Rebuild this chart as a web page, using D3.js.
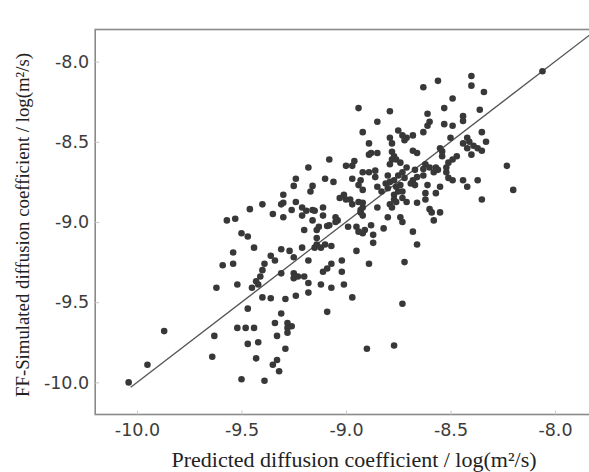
<!DOCTYPE html>
<html><head><meta charset="utf-8">
<script src="https://cdn.jsdelivr.net/npm/d3@7"></script>
<style>body{margin:0;background:#fff}</style>
</head><body>
<script>
// Data (predicted, simulated) in log(m^2/s)
const predicted = [
-8.06,-8.40,-8.40,-8.56,-8.63,-8.34,-8.49,-8.94,-8.79,-8.53,-8.36,-8.85,-8.61,-8.60,-8.61,-8.44,-8.44,-8.53,-8.49,
-8.92,-8.75,-8.73,-8.71,-8.68,-8.72,-8.63,-8.35,-8.79,-8.78,-8.89,-8.50,-8.42,-8.41,-8.44,-8.39,-8.33,-8.68,-8.66,
-8.55,-8.54,-8.54,-8.89,-8.88,-8.85,-8.78,-8.77,-8.78,-8.79,-8.76,-8.74,-8.42,-8.37,-8.35,-8.40,-9.08,-8.96,-9.00,
-8.97,-8.92,-8.89,-8.62,-8.60,-8.63,-8.49,-8.47,-8.51,-8.52,-8.57,-8.56,-8.58,-8.23,-8.86,-8.75,-8.73,-8.72,-8.71,
-8.67,-8.66,-8.63,-8.52,-8.51,-8.49,-9.18,-9.10,-9.06,-9.24,-9.25,-8.97,-8.93,-8.94,-8.92,-8.81,-8.79,-8.80,-8.83,
-8.68,-8.69,-8.67,-8.61,-8.62,-8.55,-8.57,-8.42,-8.44,-8.37,-8.20,-8.35,-9.16,-9.17,-9.01,-9.03,-9.00,-8.98,-8.97,
-8.94,-8.92,-8.92,-8.93,-8.85,-8.79,-8.76,-8.62,-8.66,-8.55,-8.59,-9.21,-9.16,-9.11,-8.93,-8.92,-8.80,-8.74,-8.75,
-8.73,-8.77,-8.73,-8.77,-8.76,-8.74,-8.77,-8.85,-8.80,-9.30,-9.30,-9.24,-9.40,-9.31,-9.35,-9.46,-9.26,-9.19,-9.15,
-9.11,-9.21,-9.30,-9.57,-9.53,-9.16,-9.13,-9.14,-9.09,-9.08,-9.05,-9.05,-9.04,-8.99,-8.95,-8.94,-8.92,-8.91,-8.88,
-8.87,-8.87,-8.82,-8.78,-8.73,-8.68,-8.66,-8.58,-8.60,-8.71,-9.20,-9.50,-9.47,-9.44,-9.31,-9.27,-9.25,-9.21,-9.14,
-9.14,-9.12,-9.15,-9.10,-9.07,-8.95,-9.54,-9.54,-9.59,-9.36,-9.34,-9.18,-9.07,-9.09,-9.02,-9.02,-9.11,-8.89,-8.72,
-9.39,-9.40,-9.31,-9.25,-9.23,-9.25,-9.20,-9.18,-9.18,-9.12,-9.07,-9.01,-9.41,-9.43,-9.42,-9.52,-9.62,-9.45,-9.40,
-9.36,-9.29,-9.24,-8.97,-9.09,-9.47,-9.31,-8.73,-9.87,-9.63,-9.52,-9.48,-9.44,-9.34,-9.28,-9.26,-9.28,-9.28,-9.33,
-9.47,-9.42,-9.29,-8.90,-8.77,-9.64,-9.43,-9.33,-9.35,-9.32,-9.50,-9.39,-9.95,-10.04,-8.86
];
const simulated = [
-8.06,-8.09,-8.15,-8.12,-8.16,-8.19,-8.23,-8.29,-8.31,-8.29,-8.30,-8.375,-8.325,-8.375,-8.40,-8.34,-8.37,-8.39,-8.40,
-8.44,-8.43,-8.46,-8.475,-8.46,-8.49,-8.44,-8.44,-8.475,-8.51,-8.51,-8.475,-8.475,-8.50,-8.51,-8.525,-8.50,-8.556,-8.57,
-8.54,-8.56,-8.59,-8.58,-8.57,-8.57,-8.5625,-8.59,-8.61,-8.64,-8.61,-8.63,-8.54,-8.54,-8.556,-8.58,-8.61,-8.62,-8.65,
-8.65,-8.69,-8.69,-8.64,-8.66,-8.67,-8.61,-8.59,-8.63,-8.66,-8.66,-8.675,-8.69,-8.65,-8.72,-8.71,-8.69,-8.725,-8.66,
-8.675,-8.72,-8.71,-8.69,-8.725,-8.74,-8.66,-8.73,-8.75,-8.73,-8.775,-8.73,-8.74,-8.77,-8.80,-8.76,-8.75,-8.79,-8.81,
-8.74,-8.76,-8.77,-8.77,-8.82,-8.78,-8.82,-8.78,-8.74,-8.74,-8.80,-8.86,-8.775,-8.81,-8.83,-8.85,-8.86,-8.86,-8.89,
-8.875,-8.88,-8.91,-8.925,-8.91,-8.89,-8.875,-8.86,-8.88,-8.94,-8.94,-8.91,-8.925,-8.91,-8.94,-8.96,-8.97,-8.97,-8.81,
-8.81,-8.83,-8.85,-8.86,-8.78,-8.77,-8.74,-8.78,-8.71,-8.83,-8.88,-8.875,-8.89,-8.89,-8.95,-8.92,-8.925,-8.93,-8.93,
-8.96,-8.96,-8.97,-8.99,-8.98,-8.99,-9.03,-9.05,-9.025,-9.02,-9.00,-8.97,-8.99,-9.03,-9.03,-9.06,-9.07,-9.05,-9.02,
-9.08,-9.13,-9.04,-8.91,-9.00,-9.06,-9.14,-8.99,-8.92,-8.875,-9.05,-9.07,-9.09,-9.16,-9.17,-9.18,-9.22,-9.16,-9.10,
-9.14,-9.16,-9.16,-9.14,-9.15,-9.18,-9.19,-9.26,-9.27,-9.21,-9.24,-9.24,-9.26,-9.29,-9.24,-9.31,-9.31,-9.26,-9.25,
-9.26,-9.30,-9.32,-9.32,-9.34,-9.35,-9.34,-9.38,-9.44,-9.39,-9.41,-9.39,-9.34,-9.37,-9.39,-9.39,-9.41,-9.41,-9.47,
-9.475,-9.48,-9.46,-9.47,-9.56,-9.54,-9.57,-9.51,-9.68,-9.71,-9.66,-9.66,-9.66,-9.63,-9.63,-9.65,-9.66,-9.69,-9.71,
-9.76,-9.75,-9.79,-9.79,-9.77,-9.84,-9.85,-9.86,-9.89,-9.93,-9.98,-9.99,-9.89,-10.00,-8.68
];
const xTicks = [-10.0, -9.5, -9.0, -8.5, -8.0];
const yTicks = [-10.0, -9.5, -9.0, -8.5, -8.0];
const lineX = [-10.03, -7.80];
const lineY = [-10.03, -7.80];
const xTitle = "Predicted diffusion coefficient / log(m²/s)";
const yTitle = "FF-Simulated diffusion coefficient / log(m²/s)";

const W = 589, H = 472;
const svg = d3.select("body").append("svg").attr("width", W).attr("height", H);
const x = d3.scaleLinear().domain([-10.2, -7.8]).range([95.2, 596.8]);
const y = d3.scaleLinear().domain([-10.2, -7.8]).range([414.5, 29.5]);

// frame
svg.append("rect").attr("x", x(-10.2)).attr("y", y(-7.8))
  .attr("width", x(-7.8) - x(-10.2)).attr("height", y(-10.2) - y(-7.8))
  .attr("fill", "none").attr("stroke", "#8a8a8a").attr("stroke-width", 1.6);

const fmt = d => d.toFixed(1);
const xAxis = svg.append("g").attr("transform", `translate(0,${y(-10.2)})`)
  .call(d3.axisBottom(x).tickValues(xTicks).tickFormat(fmt).tickSizeInner(-4).tickSizeOuter(0).tickPadding(9));
const yAxis = svg.append("g").attr("transform", `translate(${x(-10.2)},0)`)
  .call(d3.axisLeft(y).tickValues(yTicks).tickFormat(fmt).tickSizeInner(-4).tickSizeOuter(0).tickPadding(6));
[xAxis, yAxis].forEach(g => {
  g.select(".domain").remove();
  g.selectAll(".tick line").attr("stroke", "#c8c8c8");
  g.selectAll(".tick text").attr("font-family", "DejaVu Sans, Verdana, sans-serif")
    .attr("font-size", 17.5).attr("fill", "#3c3c3c");
});
xAxis.selectAll(".tick text").attr("dy", "0.71em");

// diagonal line
svg.append("line").attr("x1", x(lineX[0])).attr("y1", y(lineY[0]))
  .attr("x2", x(lineX[1])).attr("y2", y(lineY[1]))
  .attr("stroke", "#555").attr("stroke-width", 1.3);

// points
const pts = predicted.map((p, i) => [p, simulated[i]]);
svg.append("g").selectAll("circle").data(pts).join("circle")
  .attr("cx", d => x(d[0])).attr("cy", d => y(d[1])).attr("r", 3.3)
  .attr("fill", "#383838");

// titles
svg.append("text").attr("x", 354).attr("y", 466.5).attr("text-anchor", "middle")
  .attr("font-family", "Liberation Serif, Times New Roman, serif").attr("font-size", 22)
  .attr("fill", "#222").text(xTitle);
svg.append("text").attr("transform", "translate(29,225) rotate(-90)").attr("text-anchor", "middle")
  .attr("font-family", "Liberation Serif, Times New Roman, serif").attr("font-size", 18.8)
  .attr("fill", "#222").text(yTitle);
</script>
</body></html>
